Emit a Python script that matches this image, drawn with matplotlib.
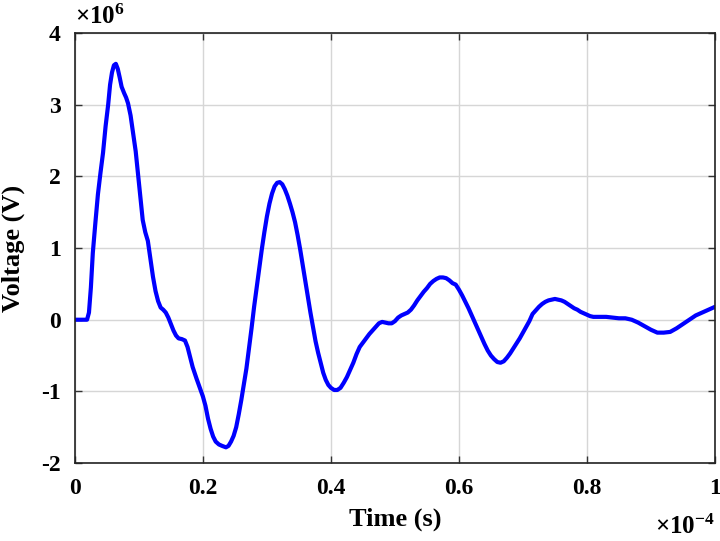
import matplotlib
matplotlib.use("Agg")
from matplotlib import pyplot as plt
from matplotlib.ticker import FuncFormatter
import numpy as np

# 字体: Times 风格粗体
plt.rcParams['font.family'] = ['Liberation Serif', 'DejaVu Serif']
plt.rcParams['font.weight'] = 'bold'
plt.rcParams['mathtext.fontset'] = 'custom'
plt.rcParams['mathtext.rm'] = 'Liberation Serif:bold'
plt.rcParams['mathtext.it'] = 'Liberation Serif:bold'
plt.rcParams['mathtext.bf'] = 'Liberation Serif:bold'

# 时间 (x1e-4 s) 与 电压 (x1e6 V)
t_1e4 = [0.000, 0.019, 0.022, 0.025, 0.028, 0.032, 0.036, 0.040, 0.044, 0.048,
         0.052, 0.055, 0.058, 0.061, 0.064, 0.067, 0.070, 0.073, 0.077, 0.080,
         0.083, 0.087, 0.091, 0.095, 0.099, 0.103, 0.106, 0.110, 0.114, 0.118,
         0.122, 0.126, 0.130, 0.134, 0.138, 0.142, 0.146, 0.150, 0.154, 0.158,
         0.162, 0.167, 0.172, 0.176, 0.180, 0.184, 0.190, 0.196, 0.200, 0.204,
         0.208, 0.212, 0.216, 0.220, 0.225, 0.230, 0.236, 0.240, 0.244, 0.248,
         0.252, 0.256, 0.260, 0.264, 0.268, 0.272, 0.276, 0.280, 0.284, 0.288,
         0.292, 0.296, 0.300, 0.304, 0.308, 0.312, 0.316, 0.320, 0.324, 0.328,
         0.332, 0.336, 0.340, 0.344, 0.348, 0.352, 0.356, 0.360, 0.364, 0.368,
         0.372, 0.376, 0.380, 0.384, 0.388, 0.392, 0.396, 0.400, 0.405, 0.410,
         0.415, 0.420, 0.425, 0.430, 0.435, 0.440, 0.445, 0.450, 0.455, 0.460,
         0.465, 0.470, 0.475, 0.480, 0.485, 0.490, 0.495, 0.500, 0.505, 0.510,
         0.515, 0.520, 0.525, 0.530, 0.535, 0.540, 0.545, 0.550, 0.555, 0.560,
         0.565, 0.570, 0.575, 0.580, 0.585, 0.590, 0.595, 0.600, 0.605, 0.610,
         0.615, 0.620, 0.625, 0.630, 0.635, 0.640, 0.645, 0.650, 0.655, 0.660,
         0.665, 0.670, 0.675, 0.680, 0.685, 0.690, 0.695, 0.700, 0.705, 0.710,
         0.715, 0.720, 0.725, 0.730, 0.735, 0.740, 0.745, 0.750, 0.755, 0.760,
         0.765, 0.770, 0.775, 0.780, 0.785, 0.790, 0.795, 0.800, 0.805, 0.810,
         0.820, 0.830, 0.840, 0.850, 0.860, 0.870, 0.880, 0.890, 0.900, 0.910,
         0.920, 0.930, 0.940, 0.950, 0.960, 0.970, 0.980, 0.990, 1.000]
v_1e6 = [0.00, 0.00, 0.10, 0.45, 0.93, 1.35, 1.75, 2.05, 2.33, 2.70,
         3.00, 3.28, 3.45, 3.55, 3.57, 3.50, 3.38, 3.25, 3.16, 3.10,
         3.02, 2.85, 2.60, 2.35, 2.00, 1.65, 1.39, 1.22, 1.10, 0.85,
         0.60, 0.40, 0.26, 0.17, 0.14, 0.10, 0.03, -0.06, -0.15, -0.22,
         -0.26, -0.27, -0.29, -0.38, -0.52, -0.66, -0.82, -0.97, -1.07, -1.20,
         -1.38, -1.52, -1.63, -1.70, -1.74, -1.76, -1.78, -1.76, -1.70, -1.62,
         -1.50, -1.32, -1.12, -0.90, -0.68, -0.40, -0.12, 0.18, 0.45, 0.72,
         0.98, 1.22, 1.44, 1.62, 1.76, 1.86, 1.91, 1.92, 1.89, 1.82,
         1.73, 1.62, 1.50, 1.36, 1.18, 0.98, 0.76, 0.54, 0.32, 0.10,
         -0.10, -0.30, -0.46, -0.60, -0.74, -0.84, -0.91, -0.95, -0.98, -0.98,
         -0.95, -0.88, -0.80, -0.70, -0.60, -0.48, -0.38, -0.32, -0.26, -0.20,
         -0.15, -0.10, -0.05, -0.03, -0.04, -0.05, -0.05, -0.02, 0.03, 0.06,
         0.08, 0.10, 0.14, 0.20, 0.27, 0.33, 0.39, 0.44, 0.50, 0.54,
         0.57, 0.59, 0.59, 0.58, 0.55, 0.51, 0.49, 0.42, 0.34, 0.25,
         0.16, 0.06, -0.04, -0.14, -0.24, -0.34, -0.43, -0.50, -0.55, -0.59,
         -0.60, -0.58, -0.53, -0.47, -0.40, -0.33, -0.26, -0.18, -0.10, -0.02,
         0.08, 0.13, 0.18, 0.22, 0.25, 0.27, 0.28, 0.29, 0.28, 0.27,
         0.25, 0.22, 0.19, 0.16, 0.14, 0.11, 0.09, 0.07, 0.05, 0.04,
         0.04, 0.04, 0.03, 0.02, 0.02, 0.00, -0.04, -0.09, -0.14, -0.18,
         -0.18, -0.17, -0.12, -0.06, 0.00, 0.06, 0.10, 0.14, 0.18]

x_ticks = [0, 0.2, 0.4, 0.6, 0.8, 1]
y_ticks = [-2, -1, 0, 1, 2, 3, 4]

t = np.array(t_1e4) * 1e-4
v = np.array(v_1e6) * 1e6

fig = plt.figure(figsize=(7.2, 5.41), dpi=100)
ax = fig.add_axes([0.104, 0.144, 0.889, 0.795])
ax.plot(t, v, color='#0000ff', linewidth=3, solid_joinstyle='round',
        solid_capstyle='round')

ax.set_xlim(0, 1e-4)
ax.set_ylim(-2e6, 4e6)
ax.set_xticks([x * 1e-4 for x in x_ticks])
ax.set_yticks([y * 1e6 for y in y_ticks])
ax.xaxis.set_major_formatter(FuncFormatter(lambda x, p: '%g' % round(x / 1e-4, 4)))
ax.yaxis.set_major_formatter(FuncFormatter(lambda y, p: '%g' % round(y / 1e6, 4)))

ax.grid(True, color='#d6d6d6', linewidth=1)
ax.tick_params(direction='in', top=True, right=True, labelsize=17, length=5,
               width=1, color='#333333')
ax.tick_params(axis='x', pad=11)
ax.tick_params(axis='y', pad=10)
for s in ax.spines.values():
    s.set_linewidth(1.2)
    s.set_color('#222222')

# 指数标注
ax.text(0.0, 1.01, r'$\times\mathbf{10^{6}}$', transform=ax.transAxes,
        fontsize=18, ha='left', va='bottom')
ax.text(1.0, -0.12, r'$\times\mathbf{10^{-4}}$', transform=ax.transAxes,
        fontsize=18, ha='right', va='top')

ax.set_xlabel('Time (s)', fontsize=19, fontweight='bold', labelpad=6)
ax.set_ylabel('Voltage (V)', fontsize=19, fontweight='bold', labelpad=12)

plt.savefig('out.png', dpi=100)
